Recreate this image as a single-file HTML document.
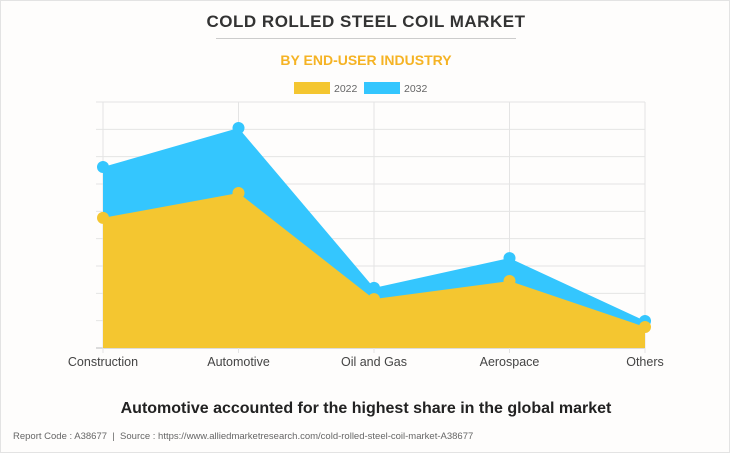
<!DOCTYPE html>
<html><head><meta charset="utf-8"><style>
body{margin:0;background:#fff;font-family:"Liberation Sans",sans-serif;}
#wrap{position:relative;width:728px;height:451px;border:1px solid #e3e3e3;background:#fefdfc;overflow:hidden}
.t{position:absolute;left:0;width:730px;text-align:center}
</style></head><body>
<div id="wrap">
<div class="t" style="top:11px;font-size:17px;font-weight:bold;color:#333;letter-spacing:0.5px">COLD ROLLED STEEL COIL MARKET</div>
<div style="position:absolute;left:215px;top:37px;width:300px;height:1px;background:#ccc"></div>
<div class="t" style="top:51px;font-size:14px;font-weight:bold;color:#f5b324">BY END-USER INDUSTRY</div>
<svg id="chart" width="730" height="380" style="position:absolute;left:0;top:0"></svg>
<div class="t" style="top:399px;font-size:16px;font-weight:bold;color:#222">Automotive accounted for the highest share in the global market</div>
<div style="position:absolute;left:12px;top:430px;font-size:9.5px;color:#666">Report Code : A38677 &nbsp;|&nbsp; Source : https://www.alliedmarketresearch.com/cold-rolled-steel-coil-market-A38677</div>
</div>
<script>
const categories=["Construction","Automotive","Oil and Gas","Aerospace","Others"];
const series2022=[47.6,56.7,17.9,24.5,7.7];
const series2032=[66.2,80.5,22.0,32.9,9.9];
const yMax=90;
const svg=document.getElementById('chart');
const NS='http://www.w3.org/2000/svg';
const x0=102,x1=644,yTop=101,yBot=347;
const xs=i=>x0+(x1-x0)*i/(categories.length-1);
const ys=v=>yBot-(yBot-yTop)*v/yMax;
function mk(t,a){const e=document.createElementNS(NS,t);for(const k in a)e.setAttribute(k,a[k]);svg.appendChild(e);return e;}
for(let g=0;g<=9;g++){const y=ys(g*10);
const l=mk('line',{x1:95,x2:x1,y1:y,y2:y,stroke:g===0?'#bbb':'#e4e4e4','stroke-width':1});

}
categories.forEach((c,i)=>{const x=xs(i);
const l=mk('line',{x1:x,x2:x,y1:yTop,y2:yBot+5,stroke:'#e4e4e4','stroke-width':1});


const t=mk('text',{x:x,y:365,'text-anchor':'middle','font-size':12.5,fill:'#444','font-family':'Liberation Sans, sans-serif'});
t.textContent=c;

});
function area(data,color,name){
let d='M'+xs(0)+','+yBot;data.forEach((v,i)=>d+=' L'+xs(i)+','+ys(v));d+=' L'+xs(data.length-1)+','+yBot+' Z';
const p=mk('path',{d:d,fill:color});


data.forEach((v,i)=>{const c=mk('circle',{cx:xs(i),cy:ys(v),r:6,fill:color});

});}
area(series2032,'#34c6fe','series-2032');
area(series2022,'#f4c630','series-2022');
[['2022','#f4c630',293],['2032','#34c6fe',363]].forEach(([lab,col,x])=>{
const r=mk('rect',{x:x,y:81,width:36,height:12,fill:col});


const t=mk('text',{x:x+40,y:91,'font-size':10.5,fill:'#666','font-family':'Liberation Sans, sans-serif'});
t.textContent=lab;

});
</script>
</body></html>
